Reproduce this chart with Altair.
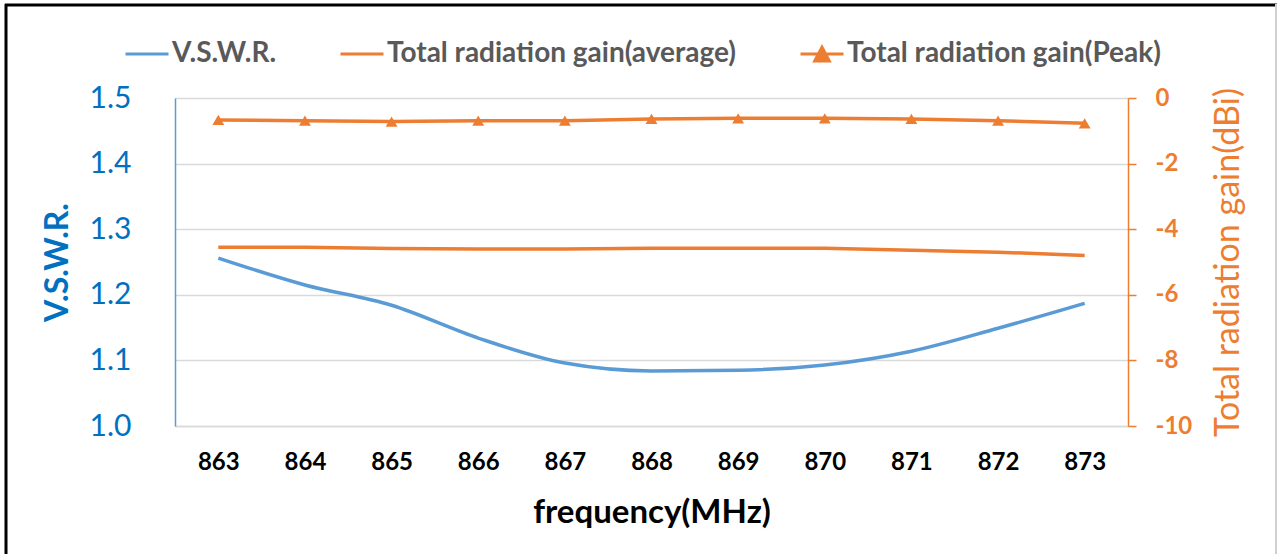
import altair as alt
import pandas as pd

# ---- data ----
freqs = ["863", "864", "865", "866", "867", "868", "869", "870", "871", "872", "873"]
vswr = [1.256, 1.215, 1.184, 1.134, 1.096, 1.084, 1.085, 1.093, 1.114, 1.149, 1.187]
gain_avg = [-4.55, -4.55, -4.59, -4.60, -4.60, -4.58, -4.58, -4.58, -4.64, -4.70, -4.80]
gain_peak = [-0.67, -0.69, -0.72, -0.69, -0.69, -0.64, -0.62, -0.62, -0.64, -0.69, -0.77]

series_names = ["V.S.W.R.", "Total radiation gain(average)", "Total radiation gain(Peak)"]
series_colors = ["#5B9BD5", "#ED7D31", "#ED7D31"]
legend_paths = ["M-1,0H1", "M-1,0H1", "M-1,0H1M-0.34,0.32L0,-0.32L0.34,0.32Z"]

vswr_ticks = [1.0, 1.1, 1.2, 1.3, 1.4, 1.5]
gain_ticks = [-10, -8, -6, -4, -2, 0]

FONT = "Lato"
BLUE_TXT = "#0070C0"
ORANGE = "#ED7D31"

df_v = pd.DataFrame({"freq": freqs, "value": vswr, "series": series_names[0]})
df_g = pd.concat([
    pd.DataFrame({"freq": freqs, "value": gain_avg, "series": series_names[1]}),
    pd.DataFrame({"freq": freqs, "value": gain_peak, "series": series_names[2]}),
], ignore_index=True)
df_p = df_g[df_g["series"] == series_names[2]]

x_axis = alt.Axis(
    labelAngle=0, labelFont=FONT, labelFontSize=24, labelFontWeight="bold",
    labelColor="#000000", labelPadding=24, ticks=False,
    domainColor="#D9D9D9", domainWidth=1.5, grid=False,
    title="frequency(MHz)", titleFont=FONT, titleFontSize=33, titleFontWeight="bold",
    titleColor="#000000", titleBaseline="middle", titleY=86,
)
x_enc = alt.X("freq:O", sort=freqs, scale=alt.Scale(type="point", padding=0.5), axis=x_axis)

color_enc = alt.Color(
    "series:N",
    scale=alt.Scale(domain=series_names, range=series_colors),
    legend=alt.Legend(title=None),
)

left_axis = alt.Axis(
    orient="left", values=vswr_ticks, format=".1f",
    labelFont=FONT, labelFontSize=30, labelColor=BLUE_TXT, labelPadding=44,
    ticks=False, domainColor="#5B9BD5", domainWidth=1.5,
    grid=True, gridColor="#D9D9D9", gridWidth=1.5,
    title="V.S.W.R.", titleFont=FONT, titleFontSize=32, titleFontWeight="bold",
    titleColor=BLUE_TXT, titleAngle=270, titleBaseline="middle", titleX=-118, titleY=164,
)
right_axis = alt.Axis(
    orient="right", values=gain_ticks, labelExpr="'' + datum.value",
    labelFont=FONT, labelFontSize=24, labelFontWeight="bold", labelColor=ORANGE,
    labelPadding=19, ticks=True, tickSize=8, tickColor=ORANGE, tickWidth=1.5,
    domainColor=ORANGE, domainWidth=1.5, grid=False,
    title="Total radiation gain(dBi)", titleFont=FONT, titleFontSize=34,
    titleFontWeight="normal", titleColor=ORANGE, titleAngle=270,
    titleBaseline="middle", titleX=100, titleY=164,
)

vswr_line = alt.Chart(df_v).mark_line(strokeWidth=3.5, interpolate="monotone").encode(
    x=x_enc,
    y=alt.Y("value:Q", scale=alt.Scale(domain=[1.0, 1.5], nice=False, zero=False), axis=left_axis),
    color=color_enc,
)

gain_y = alt.Y("value:Q", scale=alt.Scale(domain=[-10, 0], nice=False, zero=False), axis=right_axis)

gain_lines = alt.Chart(df_g).mark_line(strokeWidth=3.5).encode(
    x=x_enc, y=gain_y, color=color_enc, detail="series:N",
)
peak_pts = alt.Chart(df_p).mark_point(
    shape="triangle-up", filled=True, size=140, color=ORANGE, opacity=1
).encode(x=x_enc, y=gain_y)

legend_layer = alt.Chart(df_g).transform_filter("false").mark_point(filled=True).encode(
    color=color_enc,
    shape=alt.Shape("series:N", scale=alt.Scale(domain=series_names, range=legend_paths),
                    legend=alt.Legend(title=None)),
)

gain_layer = alt.layer(gain_lines, peak_pts, legend_layer)

frame_df = pd.DataFrame({"k": [0]})
frame_left = alt.Chart(frame_df).mark_rule(color="#000000", strokeWidth=3).encode(
    x=alt.value(-169), y=alt.value(-94), y2=alt.value(460))
frame_top = alt.Chart(frame_df).mark_rule(color="#000000", strokeWidth=3).encode(
    x=alt.value(-170), x2=alt.value(1102), y=alt.value(-93))
frame_right = alt.Chart(frame_df).mark_rule(color="#D0D0D0", strokeWidth=2).encode(
    x=alt.value(1101), y=alt.value(-94), y2=alt.value(460))

chart = alt.layer(vswr_line, gain_layer, frame_left, frame_top, frame_right).resolve_scale(
    y="independent"
).properties(
    width=953, height=328,
    autosize=alt.AutoSizeParams(type="none"),
    padding={"left": 175, "top": 98, "right": 149, "bottom": 128},
    background="#FFFFFF",
).configure_view(
    stroke=None
).configure_legend(
    orient="none", legendX=-51, legendY=-67, direction="horizontal",
    labelFont=FONT, labelFontSize=28, labelFontWeight="bold", labelColor="#595959",
    symbolSize=1849, symbolStrokeWidth=3, symbolFillColor=ORANGE, symbolOpacity=1,
    labelOffset=2, columnPadding=57, padding=0, labelLimit=0,
)

chart.save("out.html", embed_options={"renderer": "svg", "actions": False})
